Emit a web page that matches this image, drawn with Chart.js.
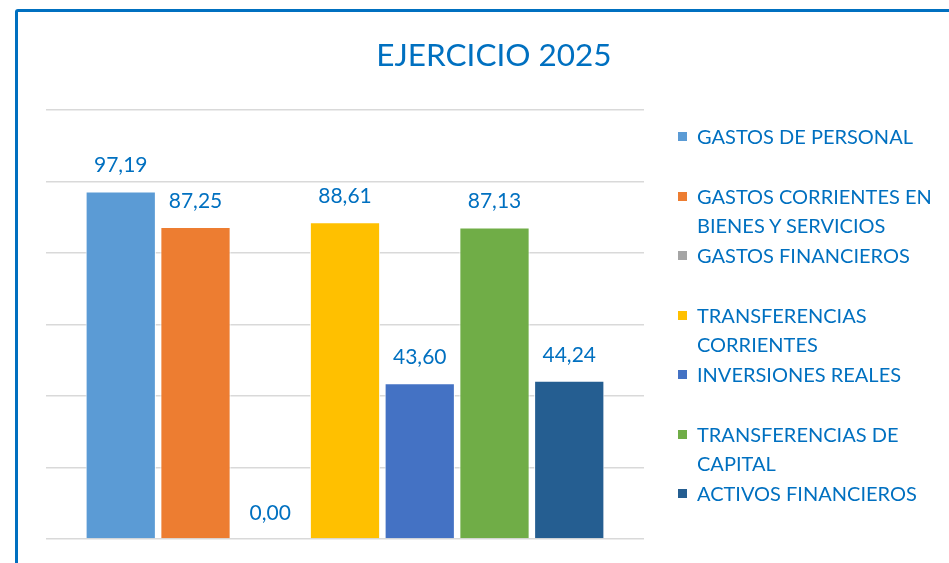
<!DOCTYPE html>
<html>
<head>
<meta charset="utf-8">
<script src="https://cdn.jsdelivr.net/npm/chart.js@4.4.1/dist/chart.umd.min.js"></script>
<style>
  html, body { margin: 0; padding: 0; background: #fff; overflow: hidden; }
  body { width: 949px; height: 563px; position: relative; font-family: Lato, "Open Sans", sans-serif; }
  #frame {
    position: absolute; left: 15px; top: 9px; width: 1000px; height: 600px;
    border: 3.5px solid #0070C0; border-radius: 3px; box-sizing: border-box;
  }
  #wrap { position: absolute; left: 0; top: 0; width: 949px; height: 563px; }
  #title {
    position: absolute; left: 0; top: 34px; width: 988px; text-align: center;
    color: #0070C0; font-size: 31.5px; line-height: 40px;
  }
  #legend { position: absolute; left: 678px; top: 122px; width: 270px; }
  .item { position: relative; height: 59.5px; color: #0070C0; font-size: 20px; }
  .item .box { position: absolute; left: 0; top: 10px; width: 9px; height: 9px; }
  .item .txt { position: absolute; left: 19px; top: 0; line-height: 29.6px; white-space: nowrap; }
</style>
</head>
<body>
<div id="frame"></div>
<div id="wrap"><canvas id="chart" width="949" height="563"></canvas></div>
<div id="title">EJERCICIO 2025</div>
<div id="legend"></div>

<script>
/* =========================
   DATOS
========================= */

const categories = [""];

const seriesNames = [
  ["GASTOS DE PERSONAL"],
  ["GASTOS CORRIENTES EN", "BIENES Y SERVICIOS"],
  ["GASTOS FINANCIEROS"],
  ["TRANSFERENCIAS", "CORRIENTES"],
  ["INVERSIONES REALES"],
  ["TRANSFERENCIAS DE", "CAPITAL"],
  ["ACTIVOS FINANCIEROS"]
];

const seriesValues = [97.19, 87.25, 0.00, 88.61, 43.60, 87.13, 44.24];

const seriesColors = ["#5B9BD5", "#ED7D31", "#A5A5A5", "#FFC000", "#4472C4", "#70AD47", "#255E91"];

const yTicks = [0, 20, 40, 60, 80, 100, 120];

const fmt = v => v.toFixed(2).replace(".", ",");

/* =========================
   ETIQUETAS DE DATOS
========================= */

const valueLabels = {
  id: "valueLabels",
  afterDatasetsDraw(chart) {
    const ctx = chart.ctx;
    ctx.save();
    ctx.font = "21px Lato";
    ctx.fillStyle = "#0070C0";
    ctx.textAlign = "center";
    ctx.textBaseline = "middle";
    chart.data.datasets.forEach((ds, i) => {
      const bar = chart.getDatasetMeta(i).data[0];
      ctx.fillText(fmt(ds.data[0]), bar.x, bar.y - 26);
    });
    ctx.restore();
  }
};

/* =========================
   CHART
========================= */

new Chart(document.getElementById("chart"), {
  type: "bar",
  data: {
    labels: categories,
    datasets: seriesNames.map((name, i) => ({
      label: name.join(" "),
      data: [seriesValues[i]],
      backgroundColor: seriesColors[i],
      borderColor: "#ffffff",
      borderWidth: 1,
      categoryPercentage: 0.875,
      barPercentage: 0.94
    }))
  },
  options: {
    responsive: false,
    animation: false,
    layout: { padding: { left: 46, right: 305, top: 110, bottom: 24 } },
    plugins: {
      legend: { display: false },
      title: { display: false },
      tooltip: { enabled: false }
    },
    scales: {
      x: { display: false },
      y: {
        min: yTicks[0],
        max: yTicks[yTicks.length - 1],
        afterBuildTicks: axis => { axis.ticks = yTicks.map(v => ({ value: v })); },
        ticks: { display: false },
        border: { display: false },
        grid: { color: "#d9d9d9", lineWidth: 1.5, drawTicks: false }
      }
    }
  },
  plugins: [valueLabels]
});

/* =========================
   LEYENDA
========================= */

const legend = document.getElementById("legend");
seriesNames.forEach((name, i) => {
  const item = document.createElement("div");
  item.className = "item";
  item.innerHTML = '<div class="box" style="background:' + seriesColors[i] + '"></div>' +
    '<div class="txt">' + name.join("<br>") + "</div>";
  legend.appendChild(item);
});
</script>
</body>
</html>
